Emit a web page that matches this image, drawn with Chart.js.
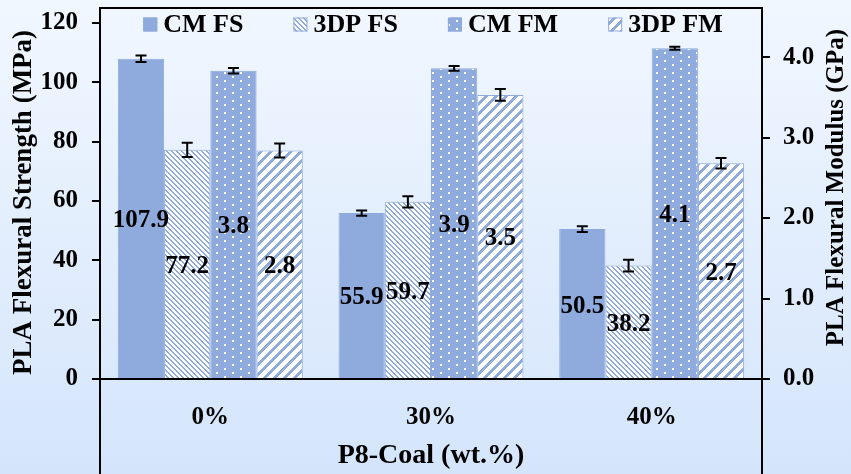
<!DOCTYPE html>
<html><head><meta charset="utf-8">
<script src="https://cdn.jsdelivr.net/npm/chart.js@4.4.1/dist/chart.umd.min.js"></script>
<style>html,body{margin:0;padding:0;background:#e6f0fd;} canvas{display:block}</style>
</head><body>
<canvas id="c" width="851" height="474"></canvas>
<script>
const categories = ['0%', '30%', '40%'];
const seriesNames = ['CM FS', '3DP FS', 'CM FM', '3DP FM'];
const cmFS = [107.9, 55.9, 50.5];
const cmFSErr = [1.1, 0.9, 1.0];
const dpFS = [77.2, 59.7, 38.2];
const dpFSErr = [2.4, 1.9, 2.0];
const cmFM = [3.83, 3.86, 4.11];
const cmFMErr = [0.035, 0.03, 0.02];
const dpFM = [2.84, 3.53, 2.68];
const dpFMErr = [0.087, 0.072, 0.065];
const strengthTicks = [0, 20, 40, 60, 80, 100, 120];
const modulusTicks = [0, 1, 2, 3, 4];
const xTitle = 'P8-Coal (wt.%)';
const yTitle = 'PLA Flexural Strength (MPa)';
const y2Title = 'PLA Flexural Modulus (GPa)';

const BLUE = '#8faadc';
const FONT = "'Liberation Serif', 'Times New Roman', serif";

function makeTile(w, h, fn) {
  const c = document.createElement('canvas'); c.width = w; c.height = h;
  const x = c.getContext('2d');
  const img = x.createImageData(w, h);
  for (let j = 0; j < h; j++) for (let i = 0; i < w; i++) {
    const k = (j * w + i) * 4;
    if (fn(i, j)) { img.data[k] = 0x8f; img.data[k+1] = 0xaa; img.data[k+2] = 0xdc; }
    else { img.data[k] = 255; img.data[k+1] = 255; img.data[k+2] = 255; }
    img.data[k+3] = 255;
  }
  x.putImageData(img, 0, 0);
  return x.createPattern(c, 'repeat');
}
const patDots = makeTile(16, 8, (i, j) => !((i < 2 && j < 2) || (i >= 8 && i < 10 && j >= 4 && j < 6)));
const patFS = makeTile(5, 5, (i, j) => (((i - j) % 5) + 5) % 5 < 2);
const patFM = makeTile(10, 10, (i, j) => ((i + j) % 10) < 4);

const fills = [BLUE, patFS, patDots, patFM];

const bgPlugin = {
  id: 'bg',
  beforeDraw(chart) {
    const ctx = chart.ctx;
    const g = ctx.createLinearGradient(0, 0, 0, chart.height);
    g.addColorStop(0, '#f1f7ff');
    g.addColorStop(1, '#d4e5fb');
    ctx.save(); ctx.fillStyle = g; ctx.fillRect(0, 0, chart.width, chart.height); ctx.restore();
  }
};

const marksPlugin = {
  id: 'marks',
  afterDatasetsDraw(chart) {
    const ctx = chart.ctx;
    ctx.save();
    ctx.strokeStyle = '#000'; ctx.lineWidth = 2;
    chart.data.datasets.forEach((ds, i) => {
      const meta = chart.getDatasetMeta(i);
      const ys = chart.scales[meta.yAxisID];
      meta.data.forEach((el, j) => {
        const v = ds.data[j], e = ds.err[j];
        const y1 = ys.getPixelForValue(v + e), y2 = ys.getPixelForValue(v - e);
        ctx.beginPath();
        ctx.moveTo(el.x, y1); ctx.lineTo(el.x, y2);
        ctx.moveTo(el.x - 5.5, y1); ctx.lineTo(el.x + 5.5, y1);
        ctx.moveTo(el.x - 5.5, y2); ctx.lineTo(el.x + 5.5, y2);
        ctx.stroke();
      });
    });
    ctx.fillStyle = '#000';
    ctx.font = 'bold 25px ' + FONT;
    ctx.textAlign = 'center'; ctx.textBaseline = 'middle';
    chart.data.datasets.forEach((ds, i) => {
      const meta = chart.getDatasetMeta(i);
      meta.data.forEach((el, j) => {
        ctx.fillText(ds.data[j].toFixed(1), el.x, (el.y + el.base) / 2 + 2.5);
      });
    });
    ctx.restore();
  },
  afterDraw(chart) {
    const ctx = chart.ctx, a = chart.chartArea;
    ctx.save();
    ctx.strokeStyle = '#000'; ctx.lineWidth = 2;
    ctx.beginPath();
    ctx.moveTo(a.left, a.top); ctx.lineTo(a.left, chart.height);
    ctx.moveTo(a.right, a.top); ctx.lineTo(a.right, chart.height);
    ctx.moveTo(a.left - 1, a.top); ctx.lineTo(a.right + 1, a.top);
    ctx.moveTo(a.left, a.bottom); ctx.lineTo(a.right, a.bottom);
    ctx.stroke();
    ctx.fillStyle = '#000';
    ctx.textAlign = 'center'; ctx.textBaseline = 'middle';
    ctx.font = 'bold 27px ' + FONT;
    ctx.save(); ctx.translate(24, 202.5); ctx.rotate(-Math.PI / 2); ctx.fillText(yTitle, 0, 0); ctx.restore();
    ctx.font = 'bold 25px ' + FONT;
    ctx.save(); ctx.translate(836.5, 187.5); ctx.rotate(-Math.PI / 2); ctx.fillText(y2Title, 0, 0); ctx.restore();
    ctx.font = 'bold 26px ' + FONT;
    const box = 14, gapBox = 6, gapItem = 50;
    const widths = chart.data.datasets.map(ds => ctx.measureText(ds.label).width);
    const total = widths.reduce((s, w) => s + box + gapBox + w, 0) + gapItem * (widths.length - 1);
    let x = (a.left + a.right) / 2 + 2 - total / 2;
    const ly = a.top + 17;
    ctx.textAlign = 'left';
    chart.data.datasets.forEach((ds, i) => {
      ctx.fillStyle = ds.backgroundColor;
      ctx.fillRect(x, ly - 7.5, box, box);
      ctx.strokeStyle = BLUE; ctx.lineWidth = 1;
      ctx.strokeRect(x + 0.5, ly - 7, box - 1, box - 1);
      ctx.fillStyle = '#000';
      ctx.fillText(ds.label, x + box + gapBox, ly);
      x += box + gapBox + widths[i] + gapItem;
    });
    ctx.restore();
  }
};

const tickFont = { family: FONT, size: 25, weight: 'bold' };
function noPad(s) { s.paddingTop = 0; s.paddingBottom = 0; s.paddingLeft = 0; s.paddingRight = 0; }

new Chart(document.getElementById('c'), {
  type: 'bar',
  data: {
    labels: categories,
    datasets: [
      { label: seriesNames[0], data: cmFS, err: cmFSErr, backgroundColor: fills[0], yAxisID: 'y' },
      { label: seriesNames[1], data: dpFS, err: dpFSErr, backgroundColor: fills[1], yAxisID: 'y' },
      { label: seriesNames[2], data: cmFM, err: cmFMErr, backgroundColor: fills[2], yAxisID: 'y2' },
      { label: seriesNames[3], data: dpFM, err: dpFMErr, backgroundColor: fills[3], yAxisID: 'y2' }
    ]
  },
  options: {
    responsive: false, animation: false, devicePixelRatio: 1,
    layout: { padding: { top: 8, left: 0, right: 0, bottom: 0 } },
    datasets: { bar: { categoryPercentage: 0.838, barPercentage: 1.0, borderWidth: 1, borderColor: BLUE } },
    plugins: { legend: { display: false }, tooltip: { enabled: false } },
    scales: {
      x: {
        position: 'bottom',
        grid: { display: false }, border: { display: false },
        ticks: { color: '#000', font: tickFont, padding: 16 },
        title: { display: true, text: xTitle, color: '#000', font: { family: FONT, size: 28, weight: 'bold' }, padding: { top: 0, bottom: 1 } },
        afterFit(s) { s.height = 95; noPad(s); }
      },
      y: {
        position: 'left', min: 0, max: 125,
        grid: { display: true, drawOnChartArea: false, drawTicks: true, tickLength: 8, color: '#000', lineWidth: 2 },
        border: { display: false },
        ticks: { color: '#000', font: tickFont, padding: 14 },
        afterBuildTicks(s) { s.ticks = strengthTicks.map(v => ({ value: v })); },
        afterFit(s) { s.width = 100; noPad(s); }
      },
      y2: {
        position: 'right', min: 0, max: 4.61,
        grid: { display: true, drawOnChartArea: false, drawTicks: true, tickLength: 8, color: '#000', lineWidth: 2 },
        border: { display: false },
        ticks: { color: '#000', font: tickFont, padding: 13, callback: v => Number(v).toFixed(1) },
        afterBuildTicks(s) { s.ticks = modulusTicks.map(v => ({ value: v })); },
        afterFit(s) { s.width = 89; noPad(s); }
      }
    }
  },
  plugins: [bgPlugin, marksPlugin]
});
</script>
</body></html>
